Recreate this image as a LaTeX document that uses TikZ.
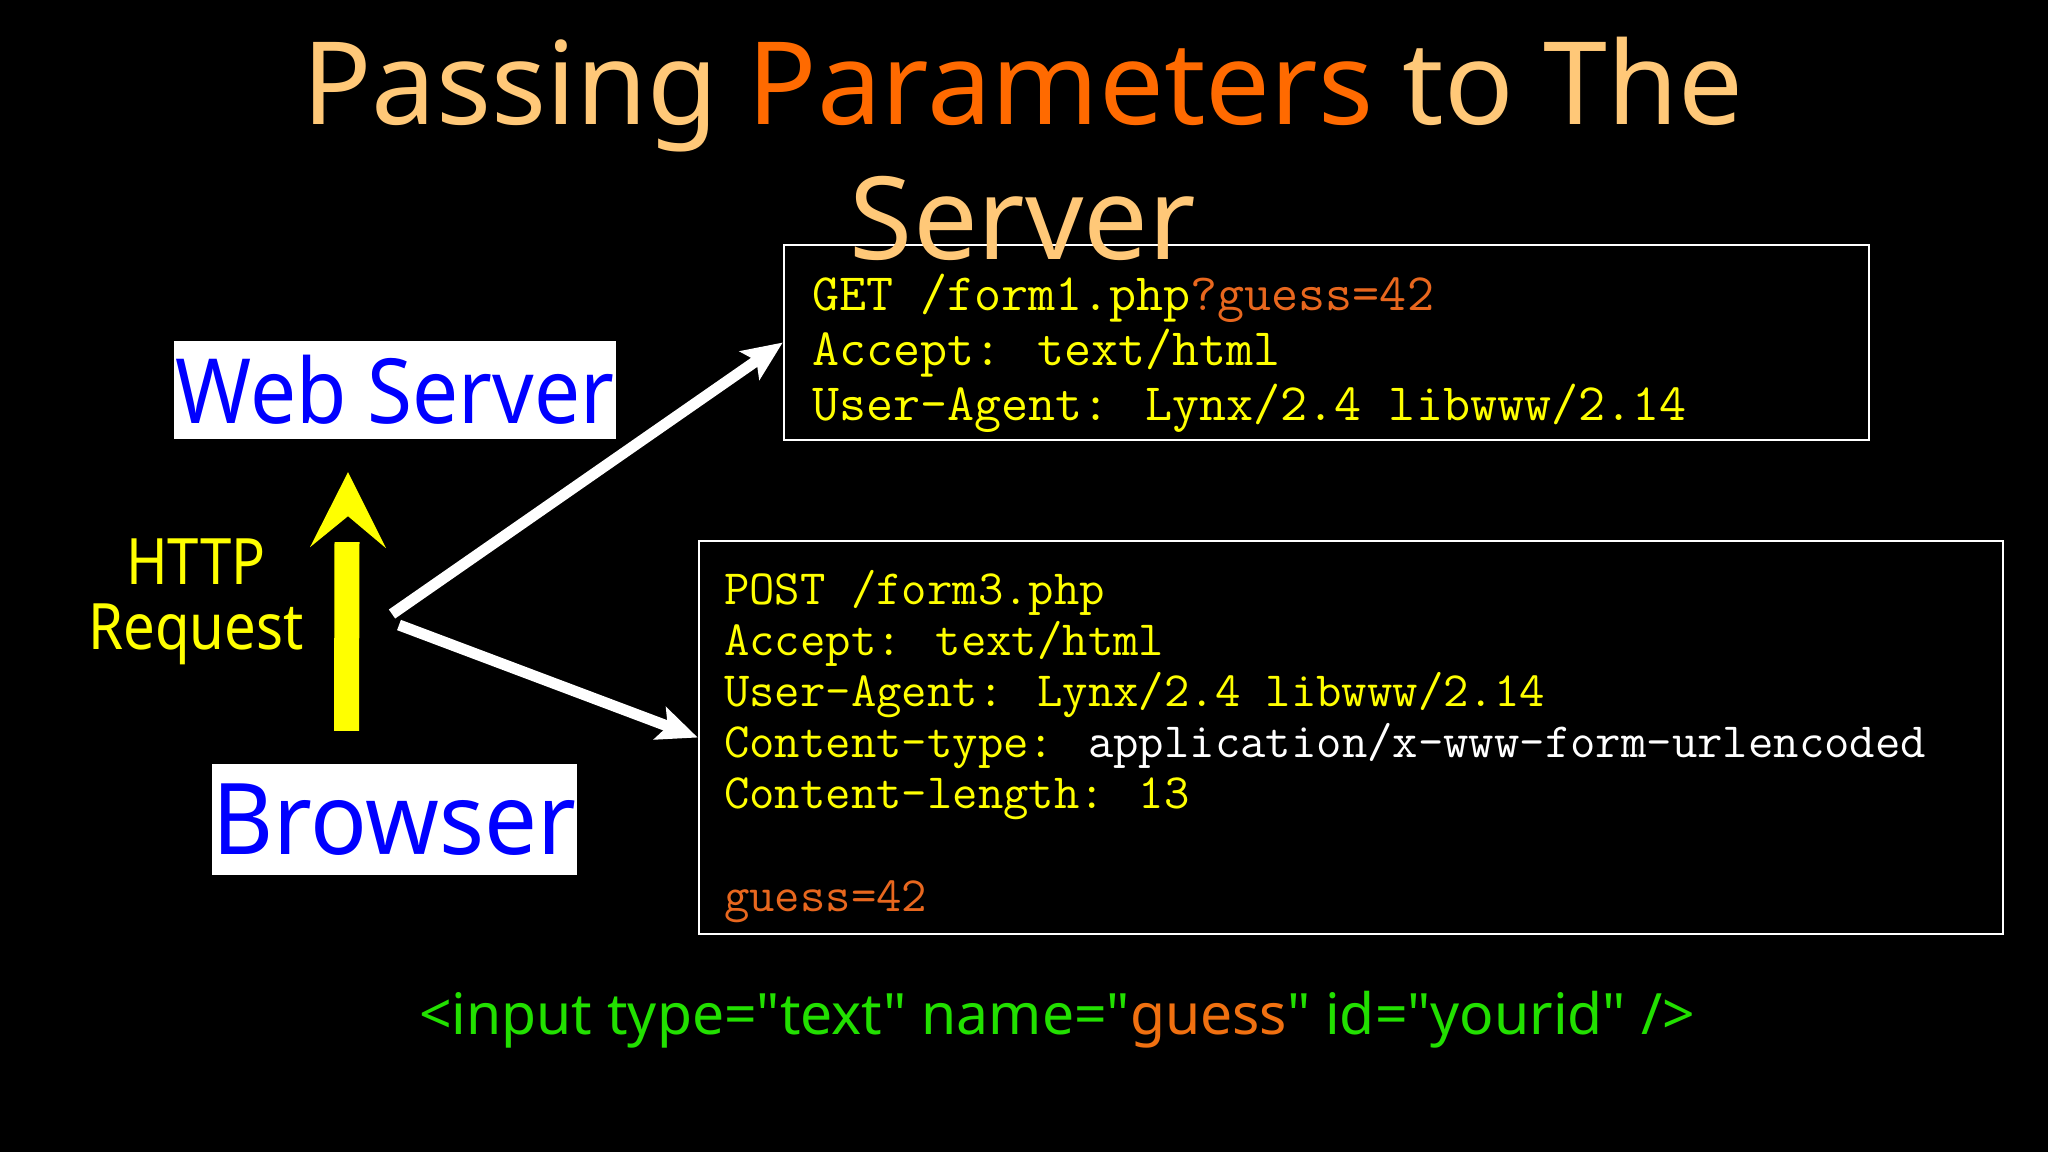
\documentclass[tikz,border=0pt]{standalone}
\usepackage{fontspec}
\setmainfont{Noto Sans}
\newfontfamily\webfont{Noto Sans}[FakeStretch=0.91]
\newfontfamily\browserfont{Noto Sans}[FakeStretch=0.95]
\newfontfamily\httpfont{Noto Sans}[FakeStretch=0.88]
\newfontfamily\htmlfont{Noto Sans}[Ligatures=TeXOff]
\usetikzlibrary{arrows.meta}
\definecolor{titlelight}{HTML}{FFC878}
\definecolor{paramorange}{HTML}{FF6A00}
\definecolor{codeyellow}{HTML}{FFFF00}
\definecolor{codeorange}{HTML}{E8671E}
\definecolor{labelblue}{HTML}{0000FF}
\definecolor{arrowyellow}{HTML}{FFFF00}
\definecolor{htmlgreen}{HTML}{22E000}
\definecolor{htmlorange}{HTML}{F07010}
\begin{document}
\begin{tikzpicture}[x=1pt,y=-1pt,
  titletext/.style={font=\fontsize{115}{115}\selectfont, text=titlelight, inner sep=0pt},
  labelbox/.style={fill=white, text=labelblue, inner sep=0pt},
  httplabel/.style={font=\httpfont\fontsize{64}{64}\selectfont, text=codeyellow, inner sep=0pt},
  codebox/.style={draw=white, line width=2.5pt, fill=black, inner sep=0pt},
  getline/.style={font=\ttfamily\fontsize{52.5}{52.5}\selectfont, text=codeyellow, inner sep=0pt, anchor=base west},
  postline/.style={font=\ttfamily\fontsize{49.3}{49.3}\selectfont, text=codeyellow, inner sep=0pt, anchor=base west},
  yshaft/.style={draw=arrowyellow, line width=25pt},
  yhead/.style={fill=arrowyellow},
  warrow/.style={draw=white, line width=11pt, -{Stealth[length=40pt, width=34pt, inset=8pt]}},
  htmltext/.style={font=\htmlfont\fontsize{57}{57}\selectfont, text=htmlgreen, inner sep=0pt}
]
\useasboundingbox[fill=black] (0,0) rectangle (2048,1152);

% title
\node[titletext, anchor=base] (title1) at (1023,124) {Passing \textcolor{paramorange}{Parameters} to The};

% code boxes
\node[codebox, minimum width=1085pt, minimum height=195pt] (get) at (1326.5,342.5) {};
\node[codebox, minimum width=1304pt, minimum height=393pt] (post) at (1351,737.5) {};

\node[titletext, anchor=base] (title2) at (1023,259) {Server};

\node[getline] (g1) at (812,310) {GET /form1.php\textcolor{codeorange}{?guess=42}};
\node[getline] (g2) at (812,365) {Accept: text/html};
\node[getline] (g3) at (812,420) {User-Agent: Lynx/2.4 libwww/2.14};

\node[postline] (p1) at (724,604) {POST /form3.php};
\node[postline] (p2) at (724,655) {Accept: text/html};
\node[postline] (p3) at (724,706) {User-Agent: Lynx/2.4 libwww/2.14};
\node[postline] (p4) at (724,757) {Content-type: \textcolor{white}{application/x-www-form-urlencoded}};
\node[postline] (p5) at (724,808) {Content-length: 13};
\node[postline] (p6) at (724,911) {\textcolor{codeorange}{guess=42}};

% label boxes
\node[labelbox, minimum width=442pt, minimum height=98pt, font=\webfont\fontsize{90}{90}\selectfont] (web) at (395,390) {Web Server};
\node[labelbox, minimum width=365pt, minimum height=111pt, font=\browserfont\fontsize{99}{99}\selectfont] (browser) at (394.5,819.5) {Browser};

% HTTP Request label
\node[httplabel, anchor=base] (http1) at (196,584) {HTTP};
\node[httplabel, anchor=base] (http2) at (196,649) {Request};

% yellow arrow: shaft from Browser, separate head below Web Server
\draw[yshaft] ([xshift=-48pt,yshift=33pt]browser.north) -- ([xshift=-48pt,yshift=-103pt]web.south);
\fill[yhead] ([xshift=-47pt,yshift=-33pt]web.south) -- ([xshift=-85pt,yshift=-108pt]web.south)
  -- ([xshift=-47pt,yshift=-77pt]web.south) -- ([xshift=-9pt,yshift=-109pt]web.south) -- cycle;

% white arrows
\coordinate (src1) at (392,614);
\coordinate (src2) at (399,625);
\draw[warrow] (src1) -- (get.west);
\draw[warrow] (src2) -- (post.west);

% html line
\node[htmltext, anchor=base] (html) at (1057,1034) {<input type="text" name="\textcolor{htmlorange}{guess}" id="yourid" />};
\end{tikzpicture}
\end{document}
